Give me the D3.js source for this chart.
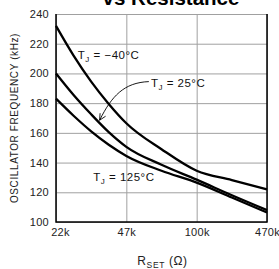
<!DOCTYPE html>
<html>
<head>
<meta charset="utf-8">
<script src="https://cdn.jsdelivr.net/npm/d3@7"></script>
<style>
  body { margin: 0; background: #fff; }
  svg { display: block; font-family: "Liberation Sans", Arial, sans-serif; }
</style>
</head>
<body>
<div id="chart"></div>
<script>
'use strict';

// x positions are category indexes (axis is evenly spaced in the source)
var xLabels = ["22k", "47k", "100k", "470k"];
var yTicks = [100, 120, 140, 160, 180, 200, 220, 240];
var xIdx = [0, 0.25, 0.5, 0.75, 1, 1.5, 2, 2.5, 3];
var fMinus40 = [232, 212, 194.5, 179.5, 166.5, 149, 134.5, 128.2, 122];
var f25 = [200, 185.5, 172.5, 160.5, 150.6, 138.5, 128.5, 118, 108];
var f125 = [183, 171.5, 161, 152, 144.5, 134.5, 126.5, 116.5, 106.4];

var width = 279, height = 269;
var margin = {top: 14, right: 12, bottom: 47, left: 56};
var w = width - margin.left - margin.right;
var h = height - margin.top - margin.bottom;

var svg = d3.select('#chart').append('svg')
    .attr('width', width)
    .attr('height', height);

var x = d3.scaleLinear().domain([0, xLabels.length - 1]).range([0, w]);
var y = d3.scaleLinear().domain([100, 240]).range([h, 0]);

var g = svg.append('g')
    .attr('transform', 'translate(' + margin.left + ',' + margin.top + ')');

// gridlines + tick labels
var yAxis = g.append('g')
    .call(d3.axisLeft(y).tickValues(yTicks).tickSize(-w).tickPadding(7));
var xAxis = g.append('g')
    .attr('transform', 'translate(0,' + h + ')')
    .call(d3.axisBottom(x).tickValues(d3.range(xLabels.length))
        .tickFormat(function(d){ return xLabels[d]; })
        .tickSize(-h).tickPadding(6));
g.selectAll('.domain').remove();
g.selectAll('.tick line').attr('stroke', '#a0a0a0').attr('stroke-width', 1);
g.selectAll('.tick text')
    .attr('fill', '#222')
    .style('font-size', '11px')
    .style('letter-spacing', '0.3px');
xAxis.selectAll('.tick text').filter(function(d){ return d === 0; }).attr('dx', 4);

// black frame on left, bottom, right
g.append('path')
    .attr('d', 'M0,0V' + h + 'H' + w + 'V0')
    .attr('fill', 'none')
    .attr('stroke', '#000')
    .attr('stroke-width', 1.5);

var line = d3.line()
    .x(function(d, i){ return x(xIdx[i]); })
    .y(function(d){ return y(d); })
    .curve(d3.curveMonotoneX);

[fMinus40, f25, f125].forEach(function(s){
    g.append('path')
        .attr('d', line(s))
        .attr('fill', 'none')
        .attr('stroke', '#000')
        .attr('stroke-width', 2.3);
});

// curve labels
function tjLabel(px, py, rest){
    var t = g.append('text')
        .attr('x', px).attr('y', py)
        .attr('fill', '#111')
        .style('font-size', '11.5px')
        .style('letter-spacing', '0.5px');
    t.append('tspan').text('T');
    t.append('tspan').attr('dy', 3).style('font-size', '8px').text('J');
    t.append('tspan').attr('dy', -3).text(' = ' + rest);
    return t;
}
tjLabel(x(0.31), y(209.5), '\u221240\u00B0C');
tjLabel(x(1.35), y(191), '25\u00B0C');
tjLabel(x(0.53), y(127.5), '125\u00B0C');

// leader arrow for 25 C
var ax0 = x(1.32), ay0 = y(194.5);
var ax1 = x(0.62), ay1 = y(168.5);
g.append('path')
    .attr('d', 'M' + ax0 + ',' + ay0 + 'C' + (ax0 - 25) + ',' + (ay0 + 1) + ' ' + (ax1 + 12) + ',' + (ay1 - 24) + ' ' + ax1 + ',' + ay1)
    .attr('fill', 'none').attr('stroke', '#000').attr('stroke-width', 0.9);
g.append('path')
    .attr('d', 'M' + (ax1 + 0.5) + ',' + (ay1 - 7) + 'L' + ax1 + ',' + ay1 + 'L' + (ax1 + 6) + ',' + (ay1 - 4))
    .attr('fill', 'none').attr('stroke', '#000').attr('stroke-width', 0.9);

// titles
svg.append('text')
    .attr('x', 171).attr('y', 5)
    .attr('text-anchor', 'middle')
    .style('font-size', '20.5px').style('font-weight', 'bold')
    .text('vs Resistance');

svg.append('text')
    .attr('transform', 'translate(18,' + (margin.top + h / 2) + ') rotate(-90)')
    .attr('text-anchor', 'middle')
    .attr('fill', '#222')
    .style('font-size', '10px')
    .style('letter-spacing', '0.6px')
    .text('OSCILLATOR FREQUENCY (kHz)');

var xt = svg.append('text')
    .attr('x', margin.left + w / 2 + 1).attr('y', 265)
    .attr('text-anchor', 'middle')
    .attr('fill', '#222')
    .style('font-size', '12px')
    .style('letter-spacing', '0.6px');
xt.append('tspan').text('R');
xt.append('tspan').attr('dy', 3).style('font-size', '8.5px').text('SET');
xt.append('tspan').attr('dy', -3).text(' (\u03A9)');
</script>
</body>
</html>
